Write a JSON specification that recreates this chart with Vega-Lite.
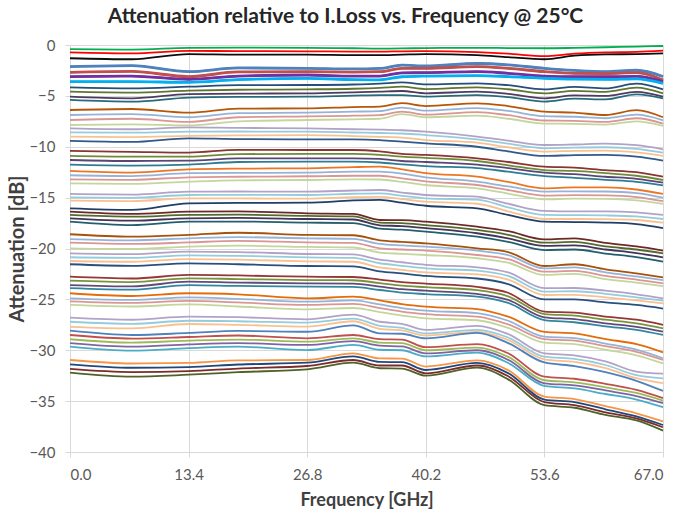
{
"$schema":"https://vega.github.io/schema/vega-lite/v6.json",
"width":593,"height":407,
"autosize":{"type":"none"},
"padding":{"left":70,"top":45,"right":17,"bottom":66},
"background":"white",
"title":{"text":"Attenuation relative to I.Loss vs. Frequency @ 25°C","font":"Lato","fontSize":21,"fontWeight":"bold","color":"#262626","anchor":"middle","dx":-21,"offset":11},
"config":{"view":{"stroke":null},"axis":{"labelFont":"Lato","labelFontSize":15,"labelColor":"#595959","titleFont":"Lato","titleFontWeight":"bold","titleColor":"#404040","gridColor":"#D9D9D9","domainColor":"#D9D9D9","tickColor":"#D9D9D9","tickSize":5}},
"data":{"values":[
{"s":1,"f":0,"v":-0.40},{"s":1,"f":7,"v":-0.45},{"s":1,"f":13.4,"v":-0.28},{"s":1,"f":19,"v":-0.25},{"s":1,"f":26.8,"v":-0.28},{"s":1,"f":32,"v":-0.32},{"s":1,"f":35,"v":-0.35},{"s":1,"f":37.5,"v":-0.34},{"s":1,"f":40.2,"v":-0.30},{"s":1,"f":46,"v":-0.28},{"s":1,"f":49.5,"v":-0.30},{"s":1,"f":53.6,"v":-0.32},{"s":1,"f":57,"v":-0.28},{"s":1,"f":60.5,"v":-0.22},{"s":1,"f":64,"v":-0.15},{"s":1,"f":67,"v":-0.10},
{"s":2,"f":0,"v":-0.72},{"s":2,"f":7,"v":-0.82},{"s":2,"f":13.4,"v":-0.58},{"s":2,"f":19,"v":-0.60},{"s":2,"f":26.8,"v":-0.62},{"s":2,"f":32,"v":-0.65},{"s":2,"f":35,"v":-0.65},{"s":2,"f":37.5,"v":-0.62},{"s":2,"f":40.2,"v":-0.60},{"s":2,"f":46,"v":-0.70},{"s":2,"f":49.5,"v":-0.85},{"s":2,"f":53.6,"v":-1.10},{"s":2,"f":57,"v":-0.85},{"s":2,"f":60.5,"v":-0.72},{"s":2,"f":64,"v":-0.68},{"s":2,"f":67,"v":-0.56},
{"s":3,"f":0,"v":-1.30},{"s":3,"f":7,"v":-1.40},{"s":3,"f":13.4,"v":-0.90},{"s":3,"f":19,"v":-0.95},{"s":3,"f":26.8,"v":-0.95},{"s":3,"f":32,"v":-1.00},{"s":3,"f":35,"v":-1.00},{"s":3,"f":37.5,"v":-0.95},{"s":3,"f":40.2,"v":-0.90},{"s":3,"f":46,"v":-1.00},{"s":3,"f":49.5,"v":-1.20},{"s":3,"f":53.6,"v":-1.40},{"s":3,"f":57,"v":-1.05},{"s":3,"f":60.5,"v":-0.92},{"s":3,"f":64,"v":-0.90},{"s":3,"f":67,"v":-0.83},
{"s":4,"f":0,"v":-2.13},{"s":4,"f":7,"v":-2.03},{"s":4,"f":13.4,"v":-2.62},{"s":4,"f":19,"v":-2.25},{"s":4,"f":26.8,"v":-2.29},{"s":4,"f":32,"v":-2.35},{"s":4,"f":35,"v":-2.30},{"s":4,"f":37.5,"v":-1.98},{"s":4,"f":40.2,"v":-2.06},{"s":4,"f":46,"v":-1.82},{"s":4,"f":49.5,"v":-1.95},{"s":4,"f":53.6,"v":-2.29},{"s":4,"f":57,"v":-2.50},{"s":4,"f":60.5,"v":-2.62},{"s":4,"f":64,"v":-2.48},{"s":4,"f":67,"v":-3.10},
{"s":5,"f":0,"v":-2.69},{"s":5,"f":7,"v":-2.60},{"s":5,"f":13.4,"v":-3.10},{"s":5,"f":19,"v":-2.65},{"s":5,"f":26.8,"v":-2.62},{"s":5,"f":32,"v":-2.66},{"s":5,"f":35,"v":-2.62},{"s":5,"f":37.5,"v":-2.30},{"s":5,"f":40.2,"v":-2.29},{"s":5,"f":46,"v":-2.13},{"s":5,"f":49.5,"v":-2.30},{"s":5,"f":53.6,"v":-2.62},{"s":5,"f":57,"v":-2.78},{"s":5,"f":60.5,"v":-2.80},{"s":5,"f":64,"v":-2.72},{"s":5,"f":67,"v":-3.44},
{"s":6,"f":0,"v":-3.10},{"s":6,"f":7,"v":-3.05},{"s":6,"f":13.4,"v":-3.37},{"s":6,"f":19,"v":-3.05},{"s":6,"f":26.8,"v":-2.95},{"s":6,"f":32,"v":-3.06},{"s":6,"f":35,"v":-3.05},{"s":6,"f":37.5,"v":-2.74},{"s":6,"f":40.2,"v":-2.72},{"s":6,"f":46,"v":-2.62},{"s":6,"f":49.5,"v":-2.78},{"s":6,"f":53.6,"v":-3.05},{"s":6,"f":57,"v":-3.12},{"s":6,"f":60.5,"v":-3.12},{"s":6,"f":64,"v":-3.08},{"s":6,"f":67,"v":-3.60},
{"s":7,"f":0,"v":-3.60},{"s":7,"f":7,"v":-3.60},{"s":7,"f":13.4,"v":-3.67},{"s":7,"f":19,"v":-3.40},{"s":7,"f":26.8,"v":-3.28},{"s":7,"f":32,"v":-3.40},{"s":7,"f":35,"v":-3.42},{"s":7,"f":37.5,"v":-3.12},{"s":7,"f":40.2,"v":-3.05},{"s":7,"f":46,"v":-3.00},{"s":7,"f":49.5,"v":-3.10},{"s":7,"f":53.6,"v":-3.28},{"s":7,"f":57,"v":-3.36},{"s":7,"f":60.5,"v":-3.38},{"s":7,"f":64,"v":-3.32},{"s":7,"f":67,"v":-3.77},
{"s":8,"f":0,"v":-4.16},{"s":8,"f":7,"v":-4.26},{"s":8,"f":13.4,"v":-4.10},{"s":8,"f":19,"v":-3.95},{"s":8,"f":26.8,"v":-3.93},{"s":8,"f":32,"v":-3.88},{"s":8,"f":35,"v":-3.80},{"s":8,"f":37.5,"v":-3.68},{"s":8,"f":40.2,"v":-3.87},{"s":8,"f":46,"v":-3.77},{"s":8,"f":49.5,"v":-3.95},{"s":8,"f":53.6,"v":-4.36},{"s":8,"f":57,"v":-4.12},{"s":8,"f":60.5,"v":-4.26},{"s":8,"f":64,"v":-3.80},{"s":8,"f":67,"v":-4.36},
{"s":9,"f":0,"v":-4.59},{"s":9,"f":7,"v":-4.68},{"s":9,"f":13.4,"v":-4.49},{"s":9,"f":19,"v":-4.40},{"s":9,"f":26.8,"v":-4.36},{"s":9,"f":32,"v":-4.30},{"s":9,"f":35,"v":-4.22},{"s":9,"f":37.5,"v":-4.10},{"s":9,"f":40.2,"v":-4.33},{"s":9,"f":46,"v":-4.16},{"s":9,"f":49.5,"v":-4.35},{"s":9,"f":53.6,"v":-4.75},{"s":9,"f":57,"v":-4.50},{"s":9,"f":60.5,"v":-4.60},{"s":9,"f":64,"v":-4.18},{"s":9,"f":67,"v":-4.75},
{"s":10,"f":0,"v":-5.08},{"s":10,"f":7,"v":-5.24},{"s":10,"f":13.4,"v":-4.82},{"s":10,"f":19,"v":-4.78},{"s":10,"f":26.8,"v":-4.75},{"s":10,"f":32,"v":-4.65},{"s":10,"f":35,"v":-4.58},{"s":10,"f":37.5,"v":-4.52},{"s":10,"f":40.2,"v":-4.75},{"s":10,"f":46,"v":-4.59},{"s":10,"f":49.5,"v":-4.80},{"s":10,"f":53.6,"v":-5.24},{"s":10,"f":57,"v":-4.95},{"s":10,"f":60.5,"v":-5.00},{"s":10,"f":64,"v":-4.60},{"s":10,"f":67,"v":-5.08},
{"s":11,"f":0,"v":-5.40},{"s":11,"f":7,"v":-5.57},{"s":11,"f":13.4,"v":-5.18},{"s":11,"f":19,"v":-5.10},{"s":11,"f":26.8,"v":-5.08},{"s":11,"f":32,"v":-4.98},{"s":11,"f":35,"v":-4.93},{"s":11,"f":37.5,"v":-4.93},{"s":11,"f":40.2,"v":-5.08},{"s":11,"f":46,"v":-4.92},{"s":11,"f":49.5,"v":-5.12},{"s":11,"f":53.6,"v":-5.57},{"s":11,"f":57,"v":-5.28},{"s":11,"f":60.5,"v":-5.34},{"s":11,"f":64,"v":-4.85},{"s":11,"f":67,"v":-5.24},
{"s":12,"f":0,"v":-6.39},{"s":12,"f":7,"v":-6.29},{"s":12,"f":13.4,"v":-6.65},{"s":12,"f":19,"v":-6.25},{"s":12,"f":26.8,"v":-6.23},{"s":12,"f":32,"v":-6.10},{"s":12,"f":35,"v":-6.05},{"s":12,"f":37.5,"v":-5.72},{"s":12,"f":40.2,"v":-6.00},{"s":12,"f":46,"v":-5.73},{"s":12,"f":49.5,"v":-6.00},{"s":12,"f":53.6,"v":-6.55},{"s":12,"f":57,"v":-6.65},{"s":12,"f":60.5,"v":-6.88},{"s":12,"f":64,"v":-6.40},{"s":12,"f":67,"v":-7.10},
{"s":13,"f":0,"v":-6.88},{"s":13,"f":7,"v":-6.80},{"s":13,"f":13.4,"v":-7.10},{"s":13,"f":19,"v":-6.70},{"s":13,"f":26.8,"v":-6.65},{"s":13,"f":32,"v":-6.55},{"s":13,"f":35,"v":-6.50},{"s":13,"f":37.5,"v":-6.15},{"s":13,"f":40.2,"v":-6.45},{"s":13,"f":46,"v":-6.20},{"s":13,"f":49.5,"v":-6.48},{"s":13,"f":53.6,"v":-7.00},{"s":13,"f":57,"v":-7.05},{"s":13,"f":60.5,"v":-7.20},{"s":13,"f":64,"v":-6.85},{"s":13,"f":67,"v":-7.40},
{"s":14,"f":0,"v":-7.37},{"s":14,"f":7,"v":-7.25},{"s":14,"f":13.4,"v":-7.55},{"s":14,"f":19,"v":-7.10},{"s":14,"f":26.8,"v":-7.02},{"s":14,"f":32,"v":-6.95},{"s":14,"f":35,"v":-6.90},{"s":14,"f":37.5,"v":-6.55},{"s":14,"f":40.2,"v":-6.85},{"s":14,"f":46,"v":-6.60},{"s":14,"f":49.5,"v":-6.90},{"s":14,"f":53.6,"v":-7.42},{"s":14,"f":57,"v":-7.45},{"s":14,"f":60.5,"v":-7.55},{"s":14,"f":64,"v":-7.20},{"s":14,"f":67,"v":-7.72},
{"s":15,"f":0,"v":-7.86},{"s":15,"f":7,"v":-7.80},{"s":15,"f":13.4,"v":-7.90},{"s":15,"f":19,"v":-7.50},{"s":15,"f":26.8,"v":-7.37},{"s":15,"f":32,"v":-7.30},{"s":15,"f":35,"v":-7.25},{"s":15,"f":37.5,"v":-6.80},{"s":15,"f":40.2,"v":-7.10},{"s":15,"f":46,"v":-6.95},{"s":15,"f":49.5,"v":-7.25},{"s":15,"f":53.6,"v":-7.72},{"s":15,"f":57,"v":-7.75},{"s":15,"f":60.5,"v":-7.82},{"s":15,"f":64,"v":-7.50},{"s":15,"f":67,"v":-7.95},
{"s":16,"f":0,"v":-8.19},{"s":16,"f":7,"v":-8.28},{"s":16,"f":13.4,"v":-8.09},{"s":16,"f":19,"v":-8.15},{"s":16,"f":26.8,"v":-8.19},{"s":16,"f":32,"v":-8.28},{"s":16,"f":35,"v":-8.32},{"s":16,"f":37.5,"v":-8.38},{"s":16,"f":40.2,"v":-8.52},{"s":16,"f":46,"v":-9.00},{"s":16,"f":49.5,"v":-9.40},{"s":16,"f":53.6,"v":-9.83},{"s":16,"f":57,"v":-9.78},{"s":16,"f":60.5,"v":-9.70},{"s":16,"f":64,"v":-9.85},{"s":16,"f":67,"v":-10.25},
{"s":17,"f":0,"v":-8.58},{"s":17,"f":7,"v":-8.62},{"s":17,"f":13.4,"v":-8.52},{"s":17,"f":19,"v":-8.50},{"s":17,"f":26.8,"v":-8.52},{"s":17,"f":32,"v":-8.60},{"s":17,"f":35,"v":-8.65},{"s":17,"f":37.5,"v":-8.70},{"s":17,"f":40.2,"v":-8.85},{"s":17,"f":46,"v":-9.27},{"s":17,"f":49.5,"v":-9.70},{"s":17,"f":53.6,"v":-10.15},{"s":17,"f":57,"v":-10.08},{"s":17,"f":60.5,"v":-10.05},{"s":17,"f":64,"v":-10.20},{"s":17,"f":67,"v":-10.58},
{"s":18,"f":0,"v":-9.00},{"s":18,"f":7,"v":-9.05},{"s":18,"f":13.4,"v":-8.94},{"s":18,"f":19,"v":-8.88},{"s":18,"f":26.8,"v":-8.85},{"s":18,"f":32,"v":-8.95},{"s":18,"f":35,"v":-9.02},{"s":18,"f":37.5,"v":-9.10},{"s":18,"f":40.2,"v":-9.34},{"s":18,"f":46,"v":-9.60},{"s":18,"f":49.5,"v":-10.05},{"s":18,"f":53.6,"v":-10.48},{"s":18,"f":57,"v":-10.40},{"s":18,"f":60.5,"v":-10.38},{"s":18,"f":64,"v":-10.55},{"s":18,"f":67,"v":-10.90},
{"s":19,"f":0,"v":-9.43},{"s":19,"f":7,"v":-9.53},{"s":19,"f":13.4,"v":-9.17},{"s":19,"f":19,"v":-9.25},{"s":19,"f":26.8,"v":-9.27},{"s":19,"f":32,"v":-9.28},{"s":19,"f":35,"v":-9.35},{"s":19,"f":37.5,"v":-9.50},{"s":19,"f":40.2,"v":-9.66},{"s":19,"f":46,"v":-10.00},{"s":19,"f":49.5,"v":-10.45},{"s":19,"f":53.6,"v":-10.90},{"s":19,"f":57,"v":-10.82},{"s":19,"f":60.5,"v":-10.80},{"s":19,"f":64,"v":-10.98},{"s":19,"f":67,"v":-11.37},
{"s":20,"f":0,"v":-10.40},{"s":20,"f":7,"v":-10.50},{"s":20,"f":13.4,"v":-10.58},{"s":20,"f":19,"v":-10.30},{"s":20,"f":26.8,"v":-10.32},{"s":20,"f":32,"v":-10.32},{"s":20,"f":35,"v":-10.45},{"s":20,"f":37.5,"v":-10.70},{"s":20,"f":40.2,"v":-10.80},{"s":20,"f":46,"v":-11.14},{"s":20,"f":49.5,"v":-11.50},{"s":20,"f":53.6,"v":-11.96},{"s":20,"f":57,"v":-12.05},{"s":20,"f":60.5,"v":-12.30},{"s":20,"f":64,"v":-12.50},{"s":20,"f":67,"v":-12.94},
{"s":21,"f":0,"v":-10.90},{"s":21,"f":7,"v":-10.98},{"s":21,"f":13.4,"v":-10.97},{"s":21,"f":19,"v":-10.72},{"s":21,"f":26.8,"v":-10.70},{"s":21,"f":32,"v":-10.70},{"s":21,"f":35,"v":-10.80},{"s":21,"f":37.5,"v":-10.97},{"s":21,"f":40.2,"v":-11.10},{"s":21,"f":46,"v":-11.40},{"s":21,"f":49.5,"v":-11.82},{"s":21,"f":53.6,"v":-12.29},{"s":21,"f":57,"v":-12.38},{"s":21,"f":60.5,"v":-12.60},{"s":21,"f":64,"v":-12.85},{"s":21,"f":67,"v":-13.27},
{"s":22,"f":0,"v":-11.30},{"s":22,"f":7,"v":-11.40},{"s":22,"f":13.4,"v":-11.37},{"s":22,"f":19,"v":-11.15},{"s":22,"f":26.8,"v":-11.14},{"s":22,"f":32,"v":-11.14},{"s":22,"f":35,"v":-11.20},{"s":22,"f":37.5,"v":-11.40},{"s":22,"f":40.2,"v":-11.50},{"s":22,"f":46,"v":-11.75},{"s":22,"f":49.5,"v":-12.10},{"s":22,"f":53.6,"v":-12.55},{"s":22,"f":57,"v":-12.70},{"s":22,"f":60.5,"v":-12.95},{"s":22,"f":64,"v":-13.15},{"s":22,"f":67,"v":-13.53},
{"s":23,"f":0,"v":-11.76},{"s":23,"f":7,"v":-11.85},{"s":23,"f":13.4,"v":-11.76},{"s":23,"f":19,"v":-11.50},{"s":23,"f":26.8,"v":-11.47},{"s":23,"f":32,"v":-11.47},{"s":23,"f":35,"v":-11.55},{"s":23,"f":37.5,"v":-11.73},{"s":23,"f":40.2,"v":-11.90},{"s":23,"f":46,"v":-12.10},{"s":23,"f":49.5,"v":-12.45},{"s":23,"f":53.6,"v":-12.88},{"s":23,"f":57,"v":-13.05},{"s":23,"f":60.5,"v":-13.25},{"s":23,"f":64,"v":-13.45},{"s":23,"f":67,"v":-13.80},
{"s":24,"f":0,"v":-12.38},{"s":24,"f":7,"v":-12.55},{"s":24,"f":13.4,"v":-12.22},{"s":24,"f":19,"v":-12.15},{"s":24,"f":26.8,"v":-12.12},{"s":24,"f":32,"v":-12.00},{"s":24,"f":35,"v":-11.96},{"s":24,"f":37.5,"v":-12.22},{"s":24,"f":40.2,"v":-12.60},{"s":24,"f":46,"v":-12.94},{"s":24,"f":49.5,"v":-13.45},{"s":24,"f":53.6,"v":-14.09},{"s":24,"f":57,"v":-14.00},{"s":24,"f":60.5,"v":-14.00},{"s":24,"f":64,"v":-14.20},{"s":24,"f":67,"v":-14.64},
{"s":25,"f":0,"v":-12.80},{"s":25,"f":7,"v":-12.88},{"s":25,"f":13.4,"v":-12.60},{"s":25,"f":19,"v":-12.57},{"s":25,"f":26.8,"v":-12.55},{"s":25,"f":32,"v":-12.45},{"s":25,"f":35,"v":-12.45},{"s":25,"f":37.5,"v":-12.65},{"s":25,"f":40.2,"v":-13.00},{"s":25,"f":46,"v":-13.43},{"s":25,"f":49.5,"v":-13.90},{"s":25,"f":53.6,"v":-14.41},{"s":25,"f":57,"v":-14.38},{"s":25,"f":60.5,"v":-14.40},{"s":25,"f":64,"v":-14.55},{"s":25,"f":67,"v":-15.00},
{"s":26,"f":0,"v":-13.20},{"s":26,"f":7,"v":-13.25},{"s":26,"f":13.4,"v":-13.00},{"s":26,"f":19,"v":-12.95},{"s":26,"f":26.8,"v":-12.90},{"s":26,"f":32,"v":-12.85},{"s":26,"f":35,"v":-12.85},{"s":26,"f":37.5,"v":-13.10},{"s":26,"f":40.2,"v":-13.40},{"s":26,"f":46,"v":-13.76},{"s":26,"f":49.5,"v":-14.25},{"s":26,"f":53.6,"v":-14.80},{"s":26,"f":57,"v":-14.75},{"s":26,"f":60.5,"v":-14.78},{"s":26,"f":64,"v":-14.95},{"s":26,"f":67,"v":-15.35},
{"s":27,"f":0,"v":-13.60},{"s":27,"f":7,"v":-13.65},{"s":27,"f":13.4,"v":-13.43},{"s":27,"f":19,"v":-13.30},{"s":27,"f":26.8,"v":-13.27},{"s":27,"f":32,"v":-13.20},{"s":27,"f":35,"v":-13.22},{"s":27,"f":37.5,"v":-13.45},{"s":27,"f":40.2,"v":-13.76},{"s":27,"f":46,"v":-14.10},{"s":27,"f":49.5,"v":-14.60},{"s":27,"f":53.6,"v":-15.17},{"s":27,"f":57,"v":-15.10},{"s":27,"f":60.5,"v":-15.12},{"s":27,"f":64,"v":-15.28},{"s":27,"f":67,"v":-15.62},
{"s":28,"f":0,"v":-14.64},{"s":28,"f":7,"v":-14.70},{"s":28,"f":13.4,"v":-14.41},{"s":28,"f":19,"v":-14.40},{"s":28,"f":26.8,"v":-14.41},{"s":28,"f":32,"v":-14.30},{"s":28,"f":35,"v":-14.25},{"s":28,"f":37.5,"v":-14.50},{"s":28,"f":40.2,"v":-14.74},{"s":28,"f":46,"v":-14.90},{"s":28,"f":49.5,"v":-15.60},{"s":28,"f":53.6,"v":-16.30},{"s":28,"f":57,"v":-16.35},{"s":28,"f":60.5,"v":-16.35},{"s":28,"f":64,"v":-16.45},{"s":28,"f":67,"v":-16.70},
{"s":29,"f":0,"v":-14.97},{"s":29,"f":7,"v":-15.02},{"s":29,"f":13.4,"v":-14.74},{"s":29,"f":19,"v":-14.72},{"s":29,"f":26.8,"v":-14.74},{"s":29,"f":32,"v":-14.62},{"s":29,"f":35,"v":-14.58},{"s":29,"f":37.5,"v":-14.82},{"s":29,"f":40.2,"v":-15.07},{"s":29,"f":46,"v":-15.20},{"s":29,"f":49.5,"v":-15.95},{"s":29,"f":53.6,"v":-16.70},{"s":29,"f":57,"v":-16.72},{"s":29,"f":60.5,"v":-16.75},{"s":29,"f":64,"v":-16.85},{"s":29,"f":67,"v":-17.10},
{"s":30,"f":0,"v":-15.30},{"s":30,"f":7,"v":-15.35},{"s":30,"f":13.4,"v":-15.07},{"s":30,"f":19,"v":-15.08},{"s":30,"f":26.8,"v":-15.10},{"s":30,"f":32,"v":-14.95},{"s":30,"f":35,"v":-14.92},{"s":30,"f":37.5,"v":-15.15},{"s":30,"f":40.2,"v":-15.40},{"s":30,"f":46,"v":-15.60},{"s":30,"f":49.5,"v":-16.35},{"s":30,"f":53.6,"v":-17.10},{"s":30,"f":57,"v":-17.10},{"s":30,"f":60.5,"v":-17.12},{"s":30,"f":64,"v":-17.20},{"s":30,"f":67,"v":-17.46},
{"s":31,"f":0,"v":-16.05},{"s":31,"f":7,"v":-16.20},{"s":31,"f":13.4,"v":-15.56},{"s":31,"f":19,"v":-15.52},{"s":31,"f":26.8,"v":-15.50},{"s":31,"f":32,"v":-15.28},{"s":31,"f":35,"v":-15.23},{"s":31,"f":37.5,"v":-15.50},{"s":31,"f":40.2,"v":-15.80},{"s":31,"f":46,"v":-16.05},{"s":31,"f":49.5,"v":-16.70},{"s":31,"f":53.6,"v":-17.36},{"s":31,"f":57,"v":-17.40},{"s":31,"f":60.5,"v":-17.45},{"s":31,"f":64,"v":-17.60},{"s":31,"f":67,"v":-18.00},
{"s":32,"f":0,"v":-16.38},{"s":32,"f":7,"v":-16.60},{"s":32,"f":13.4,"v":-16.38},{"s":32,"f":19,"v":-16.35},{"s":32,"f":26.8,"v":-16.54},{"s":32,"f":32,"v":-16.60},{"s":32,"f":35,"v":-17.20},{"s":32,"f":37.5,"v":-17.22},{"s":32,"f":40.2,"v":-17.36},{"s":32,"f":46,"v":-17.86},{"s":32,"f":49.5,"v":-18.30},{"s":32,"f":53.6,"v":-19.10},{"s":32,"f":57,"v":-19.00},{"s":32,"f":60.5,"v":-19.45},{"s":32,"f":64,"v":-19.80},{"s":32,"f":67,"v":-20.20},
{"s":33,"f":0,"v":-16.70},{"s":33,"f":7,"v":-16.87},{"s":33,"f":13.4,"v":-16.70},{"s":33,"f":19,"v":-16.68},{"s":33,"f":26.8,"v":-16.80},{"s":33,"f":32,"v":-16.85},{"s":33,"f":35,"v":-17.45},{"s":33,"f":37.5,"v":-17.50},{"s":33,"f":40.2,"v":-17.70},{"s":33,"f":46,"v":-18.18},{"s":33,"f":49.5,"v":-18.65},{"s":33,"f":53.6,"v":-19.43},{"s":33,"f":57,"v":-19.35},{"s":33,"f":60.5,"v":-19.80},{"s":33,"f":64,"v":-20.10},{"s":33,"f":67,"v":-20.47},
{"s":34,"f":0,"v":-17.03},{"s":34,"f":7,"v":-17.27},{"s":34,"f":13.4,"v":-17.03},{"s":34,"f":19,"v":-17.00},{"s":34,"f":26.8,"v":-17.10},{"s":34,"f":32,"v":-17.15},{"s":34,"f":35,"v":-17.72},{"s":34,"f":37.5,"v":-17.80},{"s":34,"f":40.2,"v":-18.00},{"s":34,"f":46,"v":-18.50},{"s":34,"f":49.5,"v":-19.00},{"s":34,"f":53.6,"v":-19.75},{"s":34,"f":57,"v":-19.70},{"s":34,"f":60.5,"v":-20.10},{"s":34,"f":64,"v":-20.45},{"s":34,"f":67,"v":-20.87},
{"s":35,"f":0,"v":-17.36},{"s":35,"f":7,"v":-17.70},{"s":35,"f":13.4,"v":-17.36},{"s":35,"f":19,"v":-17.35},{"s":35,"f":26.8,"v":-17.46},{"s":35,"f":32,"v":-17.50},{"s":35,"f":35,"v":-18.05},{"s":35,"f":37.5,"v":-18.15},{"s":35,"f":40.2,"v":-18.35},{"s":35,"f":46,"v":-18.84},{"s":35,"f":49.5,"v":-19.35},{"s":35,"f":53.6,"v":-20.15},{"s":35,"f":57,"v":-20.10},{"s":35,"f":60.5,"v":-20.50},{"s":35,"f":64,"v":-20.85},{"s":35,"f":67,"v":-21.30},
{"s":36,"f":0,"v":-18.60},{"s":36,"f":7,"v":-18.84},{"s":36,"f":13.4,"v":-18.67},{"s":36,"f":19,"v":-18.45},{"s":36,"f":26.8,"v":-18.67},{"s":36,"f":32,"v":-18.70},{"s":36,"f":35,"v":-19.20},{"s":36,"f":37.5,"v":-19.35},{"s":36,"f":40.2,"v":-19.49},{"s":36,"f":46,"v":-19.98},{"s":36,"f":49.5,"v":-20.35},{"s":36,"f":53.6,"v":-21.72},{"s":36,"f":57,"v":-21.55},{"s":36,"f":60.5,"v":-22.05},{"s":36,"f":64,"v":-22.45},{"s":36,"f":67,"v":-22.83},
{"s":37,"f":0,"v":-19.07},{"s":37,"f":7,"v":-19.20},{"s":37,"f":13.4,"v":-19.00},{"s":37,"f":19,"v":-18.88},{"s":37,"f":26.8,"v":-19.00},{"s":37,"f":32,"v":-19.05},{"s":37,"f":35,"v":-19.55},{"s":37,"f":37.5,"v":-19.70},{"s":37,"f":40.2,"v":-19.82},{"s":37,"f":46,"v":-20.20},{"s":37,"f":49.5,"v":-20.65},{"s":37,"f":53.6,"v":-21.95},{"s":37,"f":57,"v":-21.85},{"s":37,"f":60.5,"v":-22.35},{"s":37,"f":64,"v":-22.75},{"s":37,"f":67,"v":-23.10},
{"s":38,"f":0,"v":-19.43},{"s":38,"f":7,"v":-19.55},{"s":38,"f":13.4,"v":-19.40},{"s":38,"f":19,"v":-19.25},{"s":38,"f":26.8,"v":-19.40},{"s":38,"f":32,"v":-19.45},{"s":38,"f":35,"v":-19.98},{"s":38,"f":37.5,"v":-20.10},{"s":38,"f":40.2,"v":-20.20},{"s":38,"f":46,"v":-20.64},{"s":38,"f":49.5,"v":-21.05},{"s":38,"f":53.6,"v":-22.28},{"s":38,"f":57,"v":-22.20},{"s":38,"f":60.5,"v":-22.70},{"s":38,"f":64,"v":-23.05},{"s":38,"f":67,"v":-23.42},
{"s":39,"f":0,"v":-19.98},{"s":39,"f":7,"v":-20.05},{"s":39,"f":13.4,"v":-19.82},{"s":39,"f":19,"v":-19.72},{"s":39,"f":26.8,"v":-19.85},{"s":39,"f":32,"v":-19.90},{"s":39,"f":35,"v":-20.40},{"s":39,"f":37.5,"v":-20.52},{"s":39,"f":40.2,"v":-20.64},{"s":39,"f":46,"v":-20.96},{"s":39,"f":49.5,"v":-21.40},{"s":39,"f":53.6,"v":-22.60},{"s":39,"f":57,"v":-22.50},{"s":39,"f":60.5,"v":-23.00},{"s":39,"f":64,"v":-23.35},{"s":39,"f":67,"v":-23.69},
{"s":40,"f":0,"v":-20.47},{"s":40,"f":7,"v":-20.55},{"s":40,"f":13.4,"v":-20.30},{"s":40,"f":19,"v":-20.35},{"s":40,"f":26.8,"v":-20.54},{"s":40,"f":32,"v":-20.58},{"s":40,"f":35,"v":-21.10},{"s":40,"f":37.5,"v":-21.35},{"s":40,"f":40.2,"v":-21.60},{"s":40,"f":46,"v":-21.85},{"s":40,"f":49.5,"v":-22.35},{"s":40,"f":53.6,"v":-23.90},{"s":40,"f":57,"v":-23.88},{"s":40,"f":60.5,"v":-24.15},{"s":40,"f":64,"v":-24.50},{"s":40,"f":67,"v":-24.90},
{"s":41,"f":0,"v":-20.86},{"s":41,"f":7,"v":-20.92},{"s":41,"f":13.4,"v":-20.68},{"s":41,"f":19,"v":-20.72},{"s":41,"f":26.8,"v":-20.87},{"s":41,"f":32,"v":-20.92},{"s":41,"f":35,"v":-21.45},{"s":41,"f":37.5,"v":-21.70},{"s":41,"f":40.2,"v":-21.95},{"s":41,"f":46,"v":-22.18},{"s":41,"f":49.5,"v":-22.70},{"s":41,"f":53.6,"v":-24.24},{"s":41,"f":57,"v":-24.20},{"s":41,"f":60.5,"v":-24.45},{"s":41,"f":64,"v":-24.80},{"s":41,"f":67,"v":-25.13},
{"s":42,"f":0,"v":-21.23},{"s":42,"f":7,"v":-21.30},{"s":42,"f":13.4,"v":-21.05},{"s":42,"f":19,"v":-21.10},{"s":42,"f":26.8,"v":-21.26},{"s":42,"f":32,"v":-21.30},{"s":42,"f":35,"v":-21.85},{"s":42,"f":37.5,"v":-22.10},{"s":42,"f":40.2,"v":-22.35},{"s":42,"f":46,"v":-22.55},{"s":42,"f":49.5,"v":-23.05},{"s":42,"f":53.6,"v":-24.57},{"s":42,"f":57,"v":-24.55},{"s":42,"f":60.5,"v":-24.80},{"s":42,"f":64,"v":-25.10},{"s":42,"f":67,"v":-25.39},
{"s":43,"f":0,"v":-21.55},{"s":43,"f":7,"v":-21.70},{"s":43,"f":13.4,"v":-21.46},{"s":43,"f":19,"v":-21.55},{"s":43,"f":26.8,"v":-21.72},{"s":43,"f":32,"v":-21.75},{"s":43,"f":35,"v":-22.25},{"s":43,"f":37.5,"v":-22.45},{"s":43,"f":40.2,"v":-22.70},{"s":43,"f":46,"v":-22.95},{"s":43,"f":49.5,"v":-23.50},{"s":43,"f":53.6,"v":-25.00},{"s":43,"f":57,"v":-25.00},{"s":43,"f":60.5,"v":-25.30},{"s":43,"f":64,"v":-25.55},{"s":43,"f":67,"v":-25.90},
{"s":44,"f":0,"v":-22.77},{"s":44,"f":7,"v":-22.95},{"s":44,"f":13.4,"v":-22.60},{"s":44,"f":19,"v":-22.65},{"s":44,"f":26.8,"v":-22.77},{"s":44,"f":32,"v":-22.80},{"s":44,"f":35,"v":-23.05},{"s":44,"f":37.5,"v":-23.30},{"s":44,"f":40.2,"v":-23.45},{"s":44,"f":46,"v":-23.78},{"s":44,"f":49.5,"v":-24.35},{"s":44,"f":53.6,"v":-26.20},{"s":44,"f":57,"v":-26.30},{"s":44,"f":60.5,"v":-26.70},{"s":44,"f":64,"v":-27.00},{"s":44,"f":67,"v":-27.50},
{"s":45,"f":0,"v":-23.16},{"s":45,"f":7,"v":-23.30},{"s":45,"f":13.4,"v":-22.93},{"s":45,"f":19,"v":-23.00},{"s":45,"f":26.8,"v":-23.10},{"s":45,"f":32,"v":-23.12},{"s":45,"f":35,"v":-23.40},{"s":45,"f":37.5,"v":-23.65},{"s":45,"f":40.2,"v":-23.80},{"s":45,"f":46,"v":-24.10},{"s":45,"f":49.5,"v":-24.70},{"s":45,"f":53.6,"v":-26.44},{"s":45,"f":57,"v":-26.60},{"s":45,"f":60.5,"v":-27.00},{"s":45,"f":64,"v":-27.35},{"s":45,"f":67,"v":-27.84},
{"s":46,"f":0,"v":-23.59},{"s":46,"f":7,"v":-23.72},{"s":46,"f":13.4,"v":-23.26},{"s":46,"f":19,"v":-23.35},{"s":46,"f":26.8,"v":-23.42},{"s":46,"f":32,"v":-23.45},{"s":46,"f":35,"v":-23.75},{"s":46,"f":37.5,"v":-24.00},{"s":46,"f":40.2,"v":-24.15},{"s":46,"f":46,"v":-24.47},{"s":46,"f":49.5,"v":-25.05},{"s":46,"f":53.6,"v":-26.76},{"s":46,"f":57,"v":-26.95},{"s":46,"f":60.5,"v":-27.35},{"s":46,"f":64,"v":-27.70},{"s":46,"f":67,"v":-28.17},
{"s":47,"f":0,"v":-23.90},{"s":47,"f":7,"v":-24.05},{"s":47,"f":13.4,"v":-23.59},{"s":47,"f":19,"v":-23.68},{"s":47,"f":26.8,"v":-23.75},{"s":47,"f":32,"v":-23.78},{"s":47,"f":35,"v":-24.08},{"s":47,"f":37.5,"v":-24.33},{"s":47,"f":40.2,"v":-24.48},{"s":47,"f":46,"v":-24.73},{"s":47,"f":49.5,"v":-25.35},{"s":47,"f":53.6,"v":-27.03},{"s":47,"f":57,"v":-27.25},{"s":47,"f":60.5,"v":-27.65},{"s":47,"f":64,"v":-28.00},{"s":47,"f":67,"v":-28.50},
{"s":48,"f":0,"v":-24.40},{"s":48,"f":7,"v":-24.67},{"s":48,"f":13.4,"v":-24.40},{"s":48,"f":19,"v":-24.50},{"s":48,"f":26.8,"v":-24.90},{"s":48,"f":32,"v":-24.73},{"s":48,"f":35,"v":-25.10},{"s":48,"f":37.5,"v":-25.46},{"s":48,"f":40.2,"v":-25.72},{"s":48,"f":46,"v":-25.95},{"s":48,"f":49.5,"v":-26.70},{"s":48,"f":53.6,"v":-28.20},{"s":48,"f":57,"v":-28.35},{"s":48,"f":60.5,"v":-28.90},{"s":48,"f":64,"v":-29.40},{"s":48,"f":67,"v":-30.20},
{"s":49,"f":0,"v":-24.90},{"s":49,"f":7,"v":-25.05},{"s":49,"f":13.4,"v":-24.80},{"s":49,"f":19,"v":-24.95},{"s":49,"f":26.8,"v":-25.23},{"s":49,"f":32,"v":-25.10},{"s":49,"f":35,"v":-25.50},{"s":49,"f":37.5,"v":-25.85},{"s":49,"f":40.2,"v":-26.10},{"s":49,"f":46,"v":-26.35},{"s":49,"f":49.5,"v":-27.10},{"s":49,"f":53.6,"v":-28.67},{"s":49,"f":57,"v":-28.80},{"s":49,"f":60.5,"v":-29.35},{"s":49,"f":64,"v":-29.95},{"s":49,"f":67,"v":-30.80},
{"s":50,"f":0,"v":-25.20},{"s":50,"f":7,"v":-25.35},{"s":50,"f":13.4,"v":-25.15},{"s":50,"f":19,"v":-25.30},{"s":50,"f":26.8,"v":-25.55},{"s":50,"f":32,"v":-25.45},{"s":50,"f":35,"v":-25.85},{"s":50,"f":37.5,"v":-26.20},{"s":50,"f":40.2,"v":-26.45},{"s":50,"f":46,"v":-26.70},{"s":50,"f":49.5,"v":-27.45},{"s":50,"f":53.6,"v":-28.90},{"s":50,"f":57,"v":-29.05},{"s":50,"f":60.5,"v":-29.60},{"s":50,"f":64,"v":-30.15},{"s":50,"f":67,"v":-30.96},
{"s":51,"f":0,"v":-25.55},{"s":51,"f":7,"v":-25.70},{"s":51,"f":13.4,"v":-25.50},{"s":51,"f":19,"v":-25.70},{"s":51,"f":26.8,"v":-25.98},{"s":51,"f":32,"v":-25.85},{"s":51,"f":35,"v":-26.25},{"s":51,"f":37.5,"v":-26.60},{"s":51,"f":40.2,"v":-26.86},{"s":51,"f":46,"v":-27.05},{"s":51,"f":49.5,"v":-27.80},{"s":51,"f":53.6,"v":-29.26},{"s":51,"f":57,"v":-29.40},{"s":51,"f":60.5,"v":-29.95},{"s":51,"f":64,"v":-30.50},{"s":51,"f":67,"v":-31.30},
{"s":52,"f":0,"v":-26.80},{"s":52,"f":7,"v":-27.00},{"s":52,"f":13.4,"v":-26.70},{"s":52,"f":19,"v":-26.75},{"s":52,"f":26.8,"v":-26.96},{"s":52,"f":32,"v":-26.50},{"s":52,"f":35,"v":-27.20},{"s":52,"f":37.5,"v":-27.40},{"s":52,"f":40.2,"v":-28.00},{"s":52,"f":46,"v":-27.60},{"s":52,"f":49.5,"v":-28.40},{"s":52,"f":53.6,"v":-30.30},{"s":52,"f":57,"v":-30.50},{"s":52,"f":60.5,"v":-31.10},{"s":52,"f":64,"v":-32.10},{"s":52,"f":67,"v":-32.30},
{"s":53,"f":0,"v":-27.20},{"s":53,"f":7,"v":-27.40},{"s":53,"f":13.4,"v":-27.10},{"s":53,"f":19,"v":-27.15},{"s":53,"f":26.8,"v":-27.29},{"s":53,"f":32,"v":-26.90},{"s":53,"f":35,"v":-27.60},{"s":53,"f":37.5,"v":-27.80},{"s":53,"f":40.2,"v":-28.35},{"s":53,"f":46,"v":-28.00},{"s":53,"f":49.5,"v":-28.75},{"s":53,"f":53.6,"v":-30.63},{"s":53,"f":57,"v":-30.85},{"s":53,"f":60.5,"v":-31.45},{"s":53,"f":64,"v":-32.45},{"s":53,"f":67,"v":-32.76},
{"s":54,"f":0,"v":-27.70},{"s":54,"f":7,"v":-27.85},{"s":54,"f":13.4,"v":-27.42},{"s":54,"f":19,"v":-27.50},{"s":54,"f":26.8,"v":-27.68},{"s":54,"f":32,"v":-27.15},{"s":54,"f":35,"v":-27.90},{"s":54,"f":37.5,"v":-28.05},{"s":54,"f":40.2,"v":-28.55},{"s":54,"f":46,"v":-28.20},{"s":54,"f":49.5,"v":-29.00},{"s":54,"f":53.6,"v":-30.90},{"s":54,"f":57,"v":-31.15},{"s":54,"f":60.5,"v":-31.75},{"s":54,"f":64,"v":-32.75},{"s":54,"f":67,"v":-33.24},
{"s":55,"f":0,"v":-28.08},{"s":55,"f":7,"v":-28.50},{"s":55,"f":13.4,"v":-28.30},{"s":55,"f":19,"v":-28.10},{"s":55,"f":26.8,"v":-28.18},{"s":55,"f":32,"v":-27.55},{"s":55,"f":35,"v":-28.34},{"s":55,"f":37.5,"v":-28.38},{"s":55,"f":40.2,"v":-28.83},{"s":55,"f":46,"v":-28.30},{"s":55,"f":49.5,"v":-29.30},{"s":55,"f":53.6,"v":-31.20},{"s":55,"f":57,"v":-31.55},{"s":55,"f":60.5,"v":-32.15},{"s":55,"f":64,"v":-33.00},{"s":55,"f":67,"v":-34.00},
{"s":56,"f":0,"v":-28.50},{"s":56,"f":7,"v":-28.85},{"s":56,"f":13.4,"v":-28.70},{"s":56,"f":19,"v":-28.55},{"s":56,"f":26.8,"v":-28.83},{"s":56,"f":32,"v":-28.50},{"s":56,"f":35,"v":-28.90},{"s":56,"f":37.5,"v":-28.95},{"s":56,"f":40.2,"v":-29.70},{"s":56,"f":46,"v":-29.40},{"s":56,"f":49.5,"v":-30.30},{"s":56,"f":53.6,"v":-32.60},{"s":56,"f":57,"v":-32.80},{"s":56,"f":60.5,"v":-33.30},{"s":56,"f":64,"v":-33.90},{"s":56,"f":67,"v":-34.70},
{"s":57,"f":0,"v":-28.92},{"s":57,"f":7,"v":-29.25},{"s":57,"f":13.4,"v":-29.05},{"s":57,"f":19,"v":-28.95},{"s":57,"f":26.8,"v":-29.16},{"s":57,"f":32,"v":-28.83},{"s":57,"f":35,"v":-29.25},{"s":57,"f":37.5,"v":-29.30},{"s":57,"f":40.2,"v":-30.00},{"s":57,"f":46,"v":-29.75},{"s":57,"f":49.5,"v":-30.65},{"s":57,"f":53.6,"v":-32.95},{"s":57,"f":57,"v":-33.15},{"s":57,"f":60.5,"v":-33.65},{"s":57,"f":64,"v":-34.20},{"s":57,"f":67,"v":-34.95},
{"s":58,"f":0,"v":-29.30},{"s":58,"f":7,"v":-29.65},{"s":58,"f":13.4,"v":-29.42},{"s":58,"f":19,"v":-29.30},{"s":58,"f":26.8,"v":-29.48},{"s":58,"f":32,"v":-29.10},{"s":58,"f":35,"v":-29.55},{"s":58,"f":37.5,"v":-29.62},{"s":58,"f":40.2,"v":-30.30},{"s":58,"f":46,"v":-30.00},{"s":58,"f":49.5,"v":-30.95},{"s":58,"f":53.6,"v":-33.25},{"s":58,"f":57,"v":-33.45},{"s":58,"f":60.5,"v":-33.95},{"s":58,"f":64,"v":-34.50},{"s":58,"f":67,"v":-35.20},
{"s":59,"f":0,"v":-29.65},{"s":59,"f":7,"v":-30.04},{"s":59,"f":13.4,"v":-29.80},{"s":59,"f":19,"v":-29.65},{"s":59,"f":26.8,"v":-29.98},{"s":59,"f":32,"v":-29.48},{"s":59,"f":35,"v":-29.95},{"s":59,"f":37.5,"v":-30.00},{"s":59,"f":40.2,"v":-30.60},{"s":59,"f":46,"v":-30.24},{"s":59,"f":49.5,"v":-31.25},{"s":59,"f":53.6,"v":-33.50},{"s":59,"f":57,"v":-33.75},{"s":59,"f":60.5,"v":-34.30},{"s":59,"f":64,"v":-34.85},{"s":59,"f":67,"v":-35.60},
{"s":60,"f":0,"v":-30.96},{"s":60,"f":7,"v":-31.30},{"s":60,"f":13.4,"v":-31.25},{"s":60,"f":19,"v":-31.00},{"s":60,"f":26.8,"v":-30.96},{"s":60,"f":32,"v":-30.30},{"s":60,"f":35,"v":-30.80},{"s":60,"f":37.5,"v":-30.82},{"s":60,"f":40.2,"v":-31.60},{"s":60,"f":46,"v":-31.00},{"s":60,"f":49.5,"v":-31.95},{"s":60,"f":53.6,"v":-34.56},{"s":60,"f":57,"v":-34.80},{"s":60,"f":60.5,"v":-35.50},{"s":60,"f":64,"v":-36.20},{"s":60,"f":67,"v":-37.00},
{"s":61,"f":0,"v":-31.38},{"s":61,"f":7,"v":-31.72},{"s":61,"f":13.4,"v":-31.65},{"s":61,"f":19,"v":-31.40},{"s":61,"f":26.8,"v":-31.22},{"s":61,"f":32,"v":-30.60},{"s":61,"f":35,"v":-31.15},{"s":61,"f":37.5,"v":-31.17},{"s":61,"f":40.2,"v":-31.94},{"s":61,"f":46,"v":-31.25},{"s":61,"f":49.5,"v":-32.25},{"s":61,"f":53.6,"v":-34.85},{"s":61,"f":57,"v":-35.10},{"s":61,"f":60.5,"v":-35.80},{"s":61,"f":64,"v":-36.50},{"s":61,"f":67,"v":-37.35},
{"s":62,"f":0,"v":-31.84},{"s":62,"f":7,"v":-32.15},{"s":62,"f":13.4,"v":-32.05},{"s":62,"f":19,"v":-31.80},{"s":62,"f":26.8,"v":-31.55},{"s":62,"f":32,"v":-30.96},{"s":62,"f":35,"v":-31.50},{"s":62,"f":37.5,"v":-31.50},{"s":62,"f":40.2,"v":-32.27},{"s":62,"f":46,"v":-31.50},{"s":62,"f":49.5,"v":-32.55},{"s":62,"f":53.6,"v":-35.10},{"s":62,"f":57,"v":-35.40},{"s":62,"f":60.5,"v":-36.10},{"s":62,"f":64,"v":-36.70},{"s":62,"f":67,"v":-37.57},
{"s":63,"f":0,"v":-32.20},{"s":63,"f":7,"v":-32.60},{"s":63,"f":13.4,"v":-32.40},{"s":63,"f":19,"v":-32.15},{"s":63,"f":26.8,"v":-31.87},{"s":63,"f":32,"v":-31.22},{"s":63,"f":35,"v":-31.77},{"s":63,"f":37.5,"v":-31.80},{"s":63,"f":40.2,"v":-32.50},{"s":63,"f":46,"v":-31.70},{"s":63,"f":49.5,"v":-32.86},{"s":63,"f":53.6,"v":-35.40},{"s":63,"f":57,"v":-35.65},{"s":63,"f":60.5,"v":-36.35},{"s":63,"f":64,"v":-36.90},{"s":63,"f":67,"v":-37.90}
]},
"encoding":{
"x":{"field":"f","type":"quantitative","scale":{"domain":[0,67],"nice":false,"zero":false},"axis":{"values":[0,13.4,26.8,40.2,53.6,67],"format":".1f","title":"Frequency [GHz]","titleFontSize":18,"titlePadding":9,"labelPadding":10,"grid":true,"domain":true}},
"y":{"field":"v","type":"quantitative","scale":{"domain":[-40,0],"nice":false},"axis":{"values":[-40,-35,-30,-25,-20,-15,-10,-5,0],"title":"Attenuation [dB]","titleFontSize":20,"titlePadding":1,"labelPadding":10,"grid":true,"domain":true}},
"color":{"field":"s","type":"nominal","legend":null,"scale":{"domain":[1,2,3,4,5,6,7,8,9,10,11,12,13,14,15,16,17,18,19,20,21,22,23,24,25,26,27,28,29,30,31,32,33,34,35,36,37,38,39,40,41,42,43,44,45,46,47,48,49,50,51,52,53,54,55,56,57,58,59,60,61,62,63],
"range":["#00B050","#FF0000","#0D0D0D","#4F81BD","#C0504D","#7030A0","#00B0F0","#254E7D","#5F7530","#4D3B62","#276A7C","#B65708","#95B3D7","#D99694","#C3D69B","#B3A2C7","#93CDDD","#FAC090","#2F5A8C","#8B3432","#6F8A38","#5A4575","#2E7C91","#EE7622","#95B3D7","#D99694","#C3D69B","#B3A2C7","#93CDDD","#FAC090","#1F3F66","#6B2A28","#556A2C","#44345A","#235E6E","#A6520C","#95B3D7","#D99694","#C3D69B","#B3A2C7","#93CDDD","#FAC090","#28507F","#953735","#77933C","#604A7B","#31859C","#E46C0A","#95B3D7","#D99694","#C3D69B","#B3A2C7","#93CDDD","#FAC090","#4F81BD","#C0504D","#9BBB59","#8064A2","#4BACC6","#F79646","#1F497D","#7B2C2A","#4F6228"]}}
},
"layer":[
{"mark":{"type":"line","interpolate":"monotone","strokeWidth":1.8}},
{"transform":[{"filter":{"field":"s","oneOf":[4,5,6,7]}}],"mark":{"type":"line","interpolate":"monotone","strokeWidth":2.8}}
]
}
